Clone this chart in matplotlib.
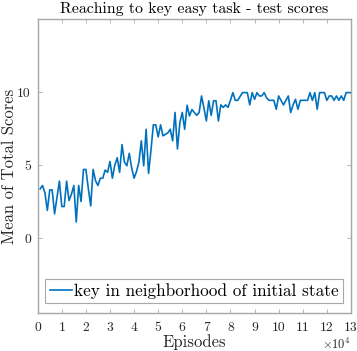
import matplotlib
matplotlib.use("Agg")
import matplotlib.pyplot as plt
import numpy as np

plt.rcParams['font.family'] = 'serif'
plt.rcParams['font.serif'] = ['cmr10']
plt.rcParams['mathtext.fontset'] = 'cm'
plt.rcParams['axes.formatter.use_mathtext'] = True

title = "Reaching to key easy task - test scores"
xlabel = "Episodes"
ylabel = "Mean of Total Scores"
legend_label = "key in neighborhood of initial state"

episodes_k = list(range(1, 131))  # thousands of episodes
scores = [
    3.37, 3.6, 3.1, 1.9, 3.3, 3.3, 1.66, 2.8, 3.9, 2.16,
    2.16, 3.9, 2.57, 3.0, 3.6, 1.1, 3.6, 2.5, 4.7, 4.7,
    3.4, 2.2, 4.7, 3.93, 3.6, 4.1, 4.1, 4.66, 4.5, 5.25,
    4.1, 5.0, 5.5, 4.5, 6.4, 5.2, 4.95, 5.8, 4.8, 4.1,
    4.55, 5.2, 6.66, 4.95, 7.45, 4.43, 6.0, 7.75, 7.75, 6.93,
    7.75, 7.0, 7.1, 7.2, 7.45, 6.66, 8.6, 6.1, 7.9, 8.6,
    7.45, 9.1, 8.36, 8.8, 8.6, 8.4, 8.6, 9.73, 8.9, 8.02,
    9.4, 8.4, 9.4, 9.4, 8.02, 9.12, 8.95, 9.12, 8.95, 9.43,
    9.96, 9.43, 9.43, 9.7, 9.96, 9.96, 9.96, 9.12, 9.96, 9.5,
    9.96, 9.73, 9.73, 9.96, 9.6, 9.43, 9.43, 9.43, 8.82, 9.73,
    9.43, 9.12, 9.43, 9.73, 8.6, 9.12, 9.5, 8.82, 9.43, 9.43,
    9.43, 9.43, 9.96, 9.43, 9.96, 8.82, 9.96, 9.96, 9.96, 9.43,
    9.73, 9.73, 9.43, 9.73, 9.43, 9.73, 9.43, 9.96, 9.96, 9.96,
]
xtick_vals = list(range(0, 14))
ytick_vals = [0, 5, 10]

episodes = np.array(episodes_k) * 1000

fig = plt.figure(figsize=(3.57, 3.51), dpi=100)
ax = fig.add_axes([0.1056, 0.1074, 0.983 - 0.1056, 0.9459 - 0.1074])

ax.plot(episodes, scores, color='#0072BD', lw=1.2, label=legend_label)
ax.set_xlim(0, 130000)
ax.set_ylim(-5.15, 15)
ax.set_xticks([v * 10000 for v in xtick_vals])
ax.set_xticklabels([str(v) for v in xtick_vals])
ax.set_yticks(ytick_vals)
ax.set_yticklabels([str(v) for v in ytick_vals])

gray = '#a8a8a8'
for s in ax.spines.values():
    s.set_color(gray)
    s.set_linewidth(1.0)
ax.tick_params(direction='in', length=3, width=0.6, color=gray,
               top=True, right=True, labelsize=9.8, labelcolor='#262626', pad=5)
ax.tick_params(axis='x', pad=6.5)

ax.set_title(title, fontsize=11.4, color='black', pad=4)
ax.set_xlabel(xlabel, fontsize=12, color='#262626', labelpad=0)
ax.set_ylabel(ylabel, fontsize=12, color='#262626', labelpad=0)
ax.text(1.0, -0.08, r'$\times10^4$', transform=ax.transAxes, ha='right', va='top',
        fontsize=9, color='#262626')

leg = ax.legend(loc='lower center', bbox_to_anchor=(0.5, 0.035), fontsize=12.4,
                fancybox=False, framealpha=1, edgecolor=gray, handlelength=1.3,
                handletextpad=0.15, borderpad=0.25, borderaxespad=0)
leg.get_frame().set_linewidth(0.8)

fig.savefig('out.png', dpi=100)
